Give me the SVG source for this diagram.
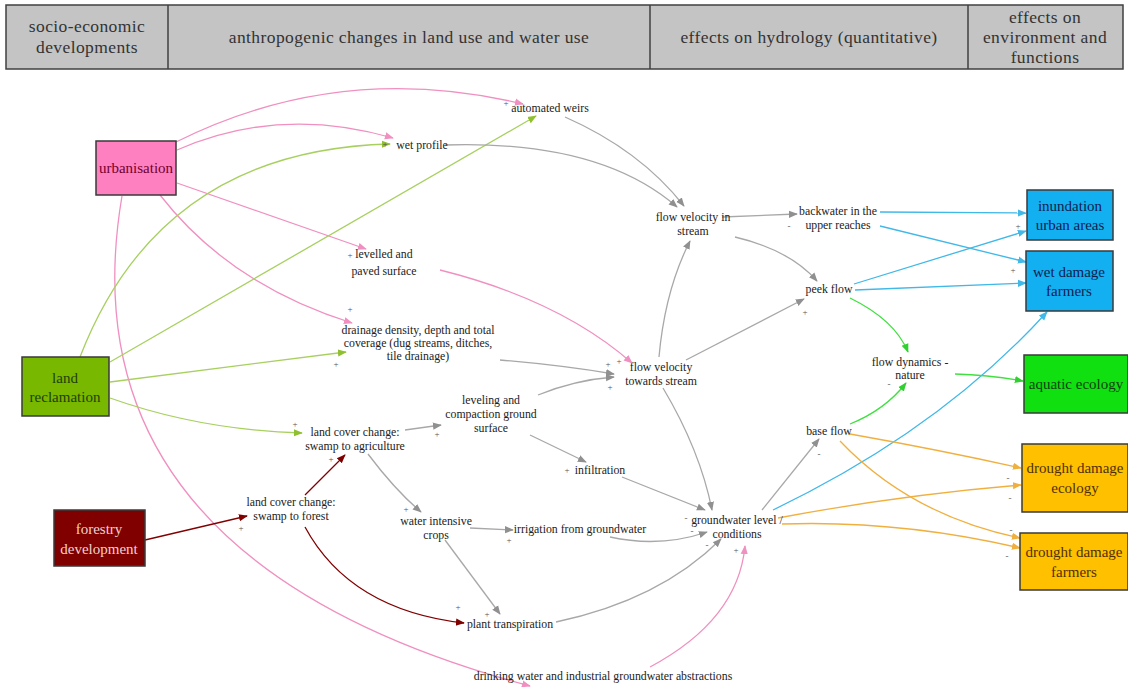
<svg xmlns="http://www.w3.org/2000/svg" width="1128" height="687" viewBox="0 0 1128 687">
<style>
.hd{font-family:"Liberation Serif","Times New Roman","DejaVu Serif",serif;font-size:17.5px;letter-spacing:0.4px;fill:#333;text-anchor:middle}
.lb{font-family:"Liberation Serif","Times New Roman","DejaVu Serif",serif;font-size:11.8px;fill:#222;text-anchor:middle}
.nt{font-family:"Liberation Serif","Times New Roman","DejaVu Serif",serif;font-size:15px;text-anchor:middle}
.sg{font-family:"Liberation Serif","Times New Roman","DejaVu Serif",serif;font-size:9px;fill:#555;text-anchor:middle}
.box{stroke:#3a3a3a;stroke-width:1.5}
.e{fill:none;stroke-width:1.3}
.pk{stroke:#f090c0}.gn{stroke:#a8d060}.dr{stroke:#800000}.gy{stroke:#a8a8a8}.bl{stroke:#40b8e8}.bg{stroke:#40e040}.or{stroke:#f0b040}
</style>
<defs>
<marker id="mpk" viewBox="0 0 10 10" refX="9" refY="5" markerWidth="9" markerHeight="9" markerUnits="userSpaceOnUse" orient="auto"><path d="M0,1 L10,5 L0,9 Z" fill="#f090c0"/></marker>
<marker id="mgn" viewBox="0 0 10 10" refX="9" refY="5" markerWidth="9" markerHeight="9" markerUnits="userSpaceOnUse" orient="auto"><path d="M0,1 L10,5 L0,9 Z" fill="#90c030"/></marker>
<marker id="mdr" viewBox="0 0 10 10" refX="9" refY="5" markerWidth="9" markerHeight="9" markerUnits="userSpaceOnUse" orient="auto"><path d="M0,1 L10,5 L0,9 Z" fill="#800000"/></marker>
<marker id="mgy" viewBox="0 0 10 10" refX="9" refY="5" markerWidth="9" markerHeight="9" markerUnits="userSpaceOnUse" orient="auto"><path d="M0,1 L10,5 L0,9 Z" fill="#909090"/></marker>
<marker id="mbl" viewBox="0 0 10 10" refX="9" refY="5" markerWidth="9" markerHeight="9" markerUnits="userSpaceOnUse" orient="auto"><path d="M0,1 L10,5 L0,9 Z" fill="#40b8e8"/></marker>
<marker id="mbg" viewBox="0 0 10 10" refX="9" refY="5" markerWidth="9" markerHeight="9" markerUnits="userSpaceOnUse" orient="auto"><path d="M0,1 L10,5 L0,9 Z" fill="#30d030"/></marker>
<marker id="mor" viewBox="0 0 10 10" refX="9" refY="5" markerWidth="9" markerHeight="9" markerUnits="userSpaceOnUse" orient="auto"><path d="M0,1 L10,5 L0,9 Z" fill="#f0b040"/></marker>
</defs>
<rect width="1128" height="687" fill="#fff"/>

<g id="header">
<rect x="6" y="5" width="1117" height="64" fill="#c4c4c4" stroke="#404040" stroke-width="1.5"/>
<line x1="168" y1="5" x2="168" y2="69" stroke="#404040" stroke-width="1.5"/>
<line x1="650" y1="5" x2="650" y2="69" stroke="#404040" stroke-width="1.5"/>
<line x1="968" y1="5" x2="968" y2="69" stroke="#404040" stroke-width="1.5"/>
<text class="hd" x="87" y="32">socio-economic</text>
<text class="hd" x="87" y="53">developments</text>
<text class="hd" x="409" y="43">anthropogenic changes in land use and water use</text>
<text class="hd" x="809" y="43">effects on hydrology (quantitative)</text>
<text class="hd" x="1045" y="23">effects on</text>
<text class="hd" x="1045" y="43">environment and</text>
<text class="hd" x="1045" y="63">functions</text>
</g>

<g id="connectors">
<!-- pink -->
<path class="e pk" d="M176,142 Q340,60 523,104" marker-end="url(#mpk)"/>
<path class="e pk" d="M177,150 Q280,105 393,138" marker-end="url(#mpk)"/>
<path class="e pk" d="M177,183 L366,249" marker-end="url(#mpk)"/>
<path class="e pk" d="M160,195 Q230,285 352,323" marker-end="url(#mpk)"/>
<path class="e pk" d="M122,196 Q60,560 530,686" marker-end="url(#mpk)"/>
<path class="e pk" d="M650,667 Q738,620 745,546" marker-end="url(#mpk)"/>
<path class="e pk" d="M440,270 Q560,300 632,363" marker-end="url(#mpk)"/>
<!-- olive green -->
<path class="e gn" d="M80,357 Q160,150 390,144" marker-end="url(#mgn)"/>
<path class="e gn" d="M110,362 L536,116" marker-end="url(#mgn)"/>
<path class="e gn" d="M110,382 L346,352" marker-end="url(#mgn)"/>
<path class="e gn" d="M110,398 Q200,430 302,433" marker-end="url(#mgn)"/>
<!-- dark red -->
<path class="e dr" d="M145,540 L247,516" marker-end="url(#mdr)"/>
<path class="e dr" d="M305,495 L345,455" marker-end="url(#mdr)"/>
<path class="e dr" d="M305,527 Q350,610 464,623" marker-end="url(#mdr)"/>
<!-- gray -->
<path class="e gy" d="M445,145 Q600,140 677,207" marker-end="url(#mgy)"/>
<path class="e gy" d="M565,117 Q640,150 684,206" marker-end="url(#mgy)"/>
<path class="e gy" d="M722,217 L797,214" marker-end="url(#mgy)"/>
<path class="e gy" d="M735,237 Q790,250 817,281" marker-end="url(#mgy)"/>
<path class="e gy" d="M659,357 Q665,290 690,241" marker-end="url(#mgy)"/>
<path class="e gy" d="M686,360 L804,299" marker-end="url(#mgy)"/>
<path class="e gy" d="M663,388 Q700,450 712,510" marker-end="url(#mgy)"/>
<path class="e gy" d="M500,360 Q560,365 614,374" marker-end="url(#mgy)"/>
<path class="e gy" d="M538,395 Q575,380 614,377" marker-end="url(#mgy)"/>
<path class="e gy" d="M405,430 L441,425" marker-end="url(#mgy)"/>
<path class="e gy" d="M530,435 L586,462" marker-end="url(#mgy)"/>
<path class="e gy" d="M622,477 L705,510" marker-end="url(#mgy)"/>
<path class="e gy" d="M368,454 Q395,490 421,512" marker-end="url(#mgy)"/>
<path class="e gy" d="M470,528 L513,530" marker-end="url(#mgy)"/>
<path class="e gy" d="M610,537 Q660,548 707,532" marker-end="url(#mgy)"/>
<path class="e gy" d="M445,540 L500,614" marker-end="url(#mgy)"/>
<path class="e gy" d="M556,622 Q660,600 721,539" marker-end="url(#mgy)"/>
<path class="e gy" d="M762,510 L819,439" marker-end="url(#mgy)"/>
<!-- blue -->
<path class="e bl" d="M880,212 L1026,213" marker-end="url(#mbl)"/>
<path class="e bl" d="M880,226 L1026,262" marker-end="url(#mbl)"/>
<path class="e bl" d="M854,284 L1026,231" marker-end="url(#mbl)"/>
<path class="e bl" d="M855,290 L1026,283" marker-end="url(#mbl)"/>
<path class="e bl" d="M773,510 Q940,430 1047,312" marker-end="url(#mbl)"/>
<!-- bright green -->
<path class="e bg" d="M850,298 Q895,320 908,352" marker-end="url(#mbg)"/>
<path class="e bg" d="M850,424 Q885,410 906,383" marker-end="url(#mbg)"/>
<path class="e bg" d="M955,374 Q990,375 1023,381" marker-end="url(#mbg)"/>
<!-- orange -->
<path class="e or" d="M850,434 Q940,450 1021,468" marker-end="url(#mor)"/>
<path class="e or" d="M840,441 Q910,515 1020,538" marker-end="url(#mor)"/>
<path class="e or" d="M778,518 Q900,495 1021,485" marker-end="url(#mor)"/>
<path class="e or" d="M782,524 Q900,520 1020,548" marker-end="url(#mor)"/>
</g>

<g id="urbanisation"><rect class="box" x="96" y="141" width="80" height="54" fill="#ff80c0"/><text class="nt" x="136" y="173" fill="#700030">urbanisation</text></g>
<g id="land-reclamation"><rect class="box" x="22" y="357" width="87" height="59" fill="#78b800"/><text class="nt" x="65" y="383" fill="#1e4000">land</text><text class="nt" x="65" y="402" fill="#1e4000">reclamation</text></g>
<g id="forestry-development"><rect class="box" x="54" y="510" width="91" height="56" fill="#800000"/><text class="nt" x="99" y="534" fill="#f0d0d0">forestry</text><text class="nt" x="99" y="554" fill="#f0d0d0">development</text></g>
<g id="inundation-urban-areas"><rect class="box" x="1027" y="190" width="86" height="50" fill="#12b0f0"/><text class="nt" x="1070" y="211" fill="#102050">inundation</text><text class="nt" x="1070" y="230" fill="#102050">urban areas</text></g>
<g id="wet-damage-farmers"><rect class="box" x="1026" y="251" width="87" height="60" fill="#12b0f0"/><text class="nt" x="1069" y="277" fill="#102050">wet damage</text><text class="nt" x="1069" y="296" fill="#102050">farmers</text></g>
<g id="aquatic-ecology"><rect class="box" x="1024" y="355" width="104" height="58" fill="#10e010"/><text class="nt" x="1076" y="389" fill="#104010">aquatic ecology</text></g>
<g id="drought-damage-ecology"><rect class="box" x="1022" y="444" width="106" height="68" fill="#ffc000"/><text class="nt" x="1075" y="473" fill="#503000">drought damage</text><text class="nt" x="1075" y="493" fill="#503000">ecology</text></g>
<g id="drought-damage-farmers"><rect class="box" x="1020" y="533" width="108" height="57" fill="#ffc000"/><text class="nt" x="1074" y="557" fill="#503000">drought damage</text><text class="nt" x="1074" y="577" fill="#503000">farmers</text></g>

<g id="automated-weirs"><text class="lb" x="550" y="112">automated weirs</text></g>
<g id="wet-profile"><text class="lb" x="422" y="149">wet profile</text></g>
<g id="levelled-paved"><text class="lb" x="384" y="258">levelled and</text><text class="lb" x="384" y="275">paved surface</text></g>
<g id="drainage-density"><text class="lb" x="418" y="334">drainage density, depth and total</text><text class="lb" x="418" y="347">coverage (dug streams, ditches,</text><text class="lb" x="418" y="360">tile drainage)</text></g>
<g id="flow-velocity-stream"><text class="lb" x="693" y="221">flow velocity in</text><text class="lb" x="693" y="235">stream</text></g>
<g id="backwater"><text class="lb" x="838" y="215">backwater in the</text><text class="lb" x="838" y="229">upper reaches</text></g>
<g id="peek-flow"><text class="lb" x="829" y="293">peek flow</text></g>
<g id="flow-velocity-towards"><text class="lb" x="661" y="371">flow velocity</text><text class="lb" x="661" y="385">towards stream</text></g>
<g id="leveling-compaction"><text class="lb" x="491" y="404">leveling and</text><text class="lb" x="491" y="418">compaction ground</text><text class="lb" x="491" y="432">surface</text></g>
<g id="swamp-to-agriculture"><text class="lb" x="355" y="436">land cover change:</text><text class="lb" x="355" y="450">swamp to agriculture</text></g>
<g id="flow-dynamics"><text class="lb" x="910" y="366">flow dynamics -</text><text class="lb" x="910" y="379">nature</text></g>
<g id="base-flow"><text class="lb" x="829" y="435">base flow</text></g>
<g id="infiltration"><text class="lb" x="600" y="474">infiltration</text></g>
<g id="swamp-to-forest"><text class="lb" x="291" y="506">land cover change:</text><text class="lb" x="291" y="520">swamp to forest</text></g>
<g id="water-intensive-crops"><text class="lb" x="436" y="525">water intensive</text><text class="lb" x="436" y="539">crops</text></g>
<g id="irrigation"><text class="lb" x="580" y="533">irrigation from groundwater</text></g>
<g id="groundwater-level"><text class="lb" x="737" y="524">groundwater level /</text><text class="lb" x="737" y="538">conditions</text></g>
<g id="plant-transpiration"><text class="lb" x="510" y="628">plant transpiration</text></g>
<g id="drinking-water"><text class="lb" x="603" y="680">drinking water and industrial groundwater abstractions</text></g>

<g id="signs">
<text class="sg" x="506" y="106">+</text>
<text class="sg" x="385" y="147">+</text>
<text class="sg" x="350" y="258">+</text>
<text class="sg" x="350" y="312">+</text>
<text class="sg" x="336" y="367">+</text>
<text class="sg" x="789" y="229">-</text>
<text class="sg" x="805" y="315">+</text>
<text class="sg" x="608" y="367">+</text>
<text class="sg" x="619" y="364">+</text>
<text class="sg" x="610" y="390">+</text>
<text class="sg" x="295" y="427">+</text>
<text class="sg" x="331" y="462">+</text>
<text class="sg" x="437" y="437">+</text>
<text class="sg" x="567" y="473">+</text>
<text class="sg" x="241" y="531">+</text>
<text class="sg" x="406" y="512">+</text>
<text class="sg" x="509" y="543">+</text>
<text class="sg" x="686" y="521">-</text>
<text class="sg" x="692" y="534">-</text>
<text class="sg" x="707" y="548">-</text>
<text class="sg" x="736" y="553">+</text>
<text class="sg" x="458" y="610">+</text>
<text class="sg" x="487" y="617">+</text>
<text class="sg" x="819" y="457">-</text>
<text class="sg" x="889" y="387">-</text>
<text class="sg" x="1018" y="229">+</text>
<text class="sg" x="1013" y="273">+</text>
<text class="sg" x="1008" y="481">-</text>
<text class="sg" x="1010" y="501">-</text>
<text class="sg" x="1011" y="533">-</text>
<text class="sg" x="1007" y="559">-</text>
</g>
</svg>
